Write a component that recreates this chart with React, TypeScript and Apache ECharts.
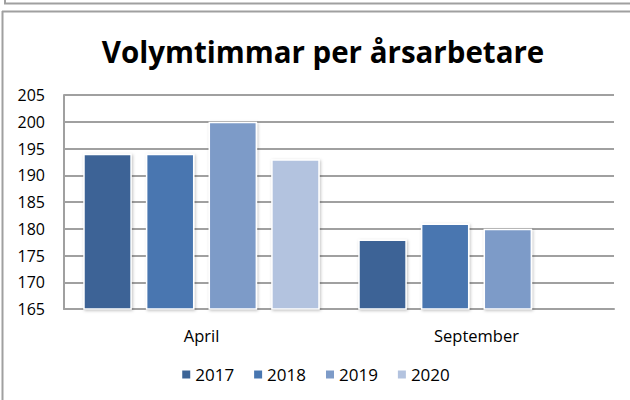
import React, { useEffect, useRef } from "react";
import * as echarts from "echarts";

const categories = ["April", "September"];
const seriesNames = ["2017", "2018", "2019", "2020"];
const values2017 = [194, 178];
const values2018 = [194, 181];
const values2019 = [200, 180];
const values2020: (number | string)[] = [193, "-"];
const colors = ["#3c6496", "#4876b0", "#7d9bc8", "#b3c3df"];
const yTicks = { min: 165, max: 205, interval: 5 };

export default function App() {
  const ref = useRef<HTMLDivElement>(null);
  useEffect(() => {
    if (!ref.current) return;
    const chart = echarts.init(ref.current, null, { renderer: "svg" });
    const allValues = [values2017, values2018, values2019, values2020];
    const font = "'Open Sans', sans-serif";
    chart.setOption({
      animation: false,
      backgroundColor: "#ffffff",
      textStyle: { fontFamily: font },
      title: {
        text: "Volymtimmar per årsarbetare",
        left: 318,
        textAlign: "center",
        top: 31,
        textStyle: { fontFamily: font, fontWeight: "bold", fontSize: 29.5, color: "#000" },
      },
      graphic: [
        { type: "line", shape: { x1: 5, y1: 0, x2: 5, y2: 3.5 }, style: { stroke: "#a0a0a0", lineWidth: 2 } },
        { type: "line", shape: { x1: 4, y1: 3.5, x2: 630, y2: 3.5 }, style: { stroke: "#a0a0a0", lineWidth: 2 } },
        { type: "line", shape: { x1: 2, y1: 11.5, x2: 630, y2: 11.5 }, style: { stroke: "#a0a0a0", lineWidth: 2 } },
        { type: "line", shape: { x1: 2.5, y1: 11, x2: 2.5, y2: 400 }, style: { stroke: "#a0a0a0", lineWidth: 2 } },
      ],
      legend: {
        bottom: 12,
        left: "center",
        icon: "rect",
        itemWidth: 10,
        itemHeight: 10,
        itemGap: 18,
        textStyle: { fontFamily: font, fontSize: 17, color: "#000", padding: [0, 0, 0, -1] },
        data: seriesNames,
      },
      grid: { left: 64, right: 16, top: 95, bottom: 91 },
      xAxis: {
        type: "category",
        data: categories,
        axisLine: { show: true, lineStyle: { color: "#a0a0a0", width: 2 } },
        axisTick: { show: false },
        axisLabel: { color: "#000", fontSize: 16.5, fontFamily: font, margin: 18 },
      },
      yAxis: {
        type: "value",
        min: yTicks.min,
        max: yTicks.max,
        interval: yTicks.interval,
        axisLine: { show: true, lineStyle: { color: "#a0a0a0", width: 2 } },
        axisTick: { show: false },
        splitLine: { show: true, lineStyle: { color: "#a0a0a0", width: 2 } },
        axisLabel: { color: "#000", fontSize: 16, fontFamily: font, margin: 19 },
      },
      series: seriesNames.map((name, i) => ({
        name,
        type: "bar",
        data: allValues[i],
        barGap: "29%",
        barCategoryGap: "14%",
        itemStyle: {
          color: colors[i],
          borderColor: "#ffffff",
          borderWidth: 1.5,
          shadowColor: "rgba(0,0,0,0.25)",
          shadowBlur: 3,
          shadowOffsetX: 1,
          shadowOffsetY: 1,
        },
      })),
    });
    return () => chart.dispose();
  }, []);
  return (
    <div
      ref={ref}
      style={{ position: "fixed", left: 0, top: 0, width: 630, height: 400 }}
    />
  );
}
